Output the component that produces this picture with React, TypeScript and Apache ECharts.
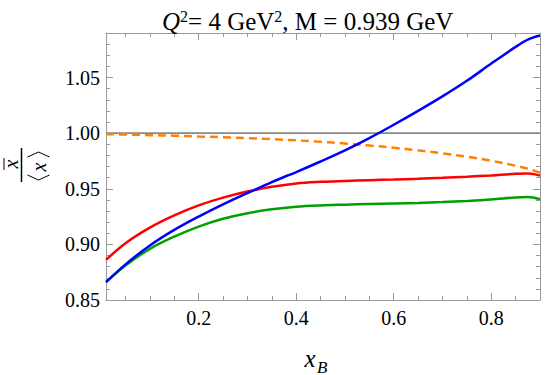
import React, { useEffect, useRef } from "react";
import * as echarts from "echarts";

const xs = [0.01, 0.05, 0.10, 0.15, 0.20, 0.25, 0.30, 0.35, 0.40, 0.45, 0.50, 0.55, 0.60, 0.65, 0.70, 0.75, 0.80, 0.85, 0.875, 0.90];
const blueVals = [0.866, 0.882, 0.899, 0.913, 0.925, 0.936, 0.946, 0.956, 0.965, 0.9745, 0.9845, 0.9955, 1.0075, 1.0200, 1.0330, 1.0470, 1.0625, 1.0775, 1.0840, 1.0877];
const redVals = [0.886, 0.901, 0.915, 0.926, 0.935, 0.942, 0.9475, 0.9518, 0.9548, 0.9562, 0.9570, 0.9577, 0.9583, 0.9590, 0.9598, 0.9608, 0.9620, 0.9634, 0.9636, 0.9618];
const greenVals = [0.866, 0.881, 0.896, 0.907, 0.916, 0.923, 0.928, 0.9315, 0.9338, 0.9350, 0.9357, 0.9363, 0.9368, 0.9373, 0.9380, 0.9390, 0.9403, 0.9422, 0.9426, 0.9405];
const orangeVals = [0.9990, 0.9987, 0.9982, 0.9977, 0.9970, 0.9963, 0.9955, 0.9946, 0.9935, 0.9922, 0.9907, 0.9889, 0.9868, 0.9845, 0.9818, 0.9788, 0.9752, 0.9707, 0.9680, 0.9645];
const refLine = [[0.01, 1.0], [0.9, 1.0]];

const xMajor = [0.2, 0.4, 0.6, 0.8];
const xMinor = [0.05, 0.1, 0.15, 0.25, 0.3, 0.35, 0.45, 0.5, 0.55, 0.65, 0.7, 0.75, 0.85];
const yMajor = [0.85, 0.9, 0.95, 1.0, 1.05];
const yMinor = [0.86, 0.87, 0.88, 0.89, 0.91, 0.92, 0.93, 0.94, 0.96, 0.97, 0.98, 0.99, 1.01, 1.02, 1.03, 1.04, 1.06, 1.07, 1.08];

const FRAME = "#999999";
const SERIF = "Liberation Serif";

const zip = (a: number[], b: number[]) => a.map((v, i) => [v, b[i]]);

export default function App() {
  const ref = useRef<HTMLDivElement>(null);
  useEffect(() => {
    if (!ref.current) return;
    document.body.style.margin = "0";
    const chart = echarts.init(ref.current, null, { renderer: "svg" });
    const xBase = { type: "value", min: 0.01, max: 0.9, splitLine: { show: false } };
    const yBase = { type: "value", min: 0.85, max: 1.09, splitLine: { show: false } };
    const mk = (base: any, pos: string, vals: number[], len: number, line: boolean, labels: boolean) => ({
      ...base,
      position: pos,
      axisLine: { show: line, onZero: false, lineStyle: { color: FRAME, width: 1 } },
      axisTick: { show: true, inside: true, length: len, customValues: vals, lineStyle: { color: FRAME, width: 1 } },
      axisLabel: labels
        ? {
            show: true,
            customValues: vals,
            formatter: (v: number) => (pos === "left" ? v.toFixed(2) : v.toFixed(1)),
            fontFamily: SERIF,
            fontStyle: "normal",
            fontWeight: "normal",
            fontSize: 20,
            color: "#000",
            margin: pos === "left" ? 6 : 8,
          }
        : { show: false },
    });
    const lineSeries = (vals: number[], color: string, dash?: number[]) => ({
      type: "line",
      data: zip(xs, vals),
      symbol: "none",
      smooth: 0.35,
      lineStyle: { color, width: 2.5, type: dash || "solid" },
    });
    chart.setOption({
      animation: false,
      textStyle: { fontFamily: SERIF },
      grid: { left: 106, right: 12, top: 33, bottom: 75 },
      title: {
        text: "{i|Q}{sup|2}{n|= 4 GeV}{sup|2}{n|, M = 0.939 GeV}",
        left: 157,
        top: 3,
        textStyle: {
          fontWeight: "normal",
          fontFamily: SERIF,
          rich: {
            i: { fontFamily: SERIF, fontSize: 25, fontStyle: "italic", fontWeight: "normal", color: "#000", lineHeight: 27 },
            n: { fontFamily: SERIF, fontSize: 25, fontWeight: "normal", color: "#000", lineHeight: 27 },
            sup: { fontFamily: SERIF, fontSize: 16, fontWeight: "normal", color: "#000", lineHeight: 16, verticalAlign: "top" },
          },
        },
      },
      xAxis: [
        mk(xBase, "bottom", xMajor, 7, true, true),
        mk(xBase, "bottom", xMinor, 4, false, false),
        mk(xBase, "top", xMajor, 7, true, false),
        mk(xBase, "top", xMinor, 4, false, false),
      ],
      yAxis: [
        mk(yBase, "left", yMajor, 7, true, true),
        mk(yBase, "left", yMinor, 4, false, false),
        mk(yBase, "right", yMajor, 7, true, false),
        mk(yBase, "right", yMinor, 4, false, false),
      ],
      series: [
        { type: "line", data: refLine, symbol: "none", lineStyle: { color: "#888888", width: 1.6 } },
        lineSeries(orangeVals, "#ff8000", [8, 5]),
        lineSeries(greenVals, "#00a000"),
        lineSeries(redVals, "#ff0000"),
        lineSeries(blueVals, "#0000ff"),
      ],
      graphic: [
        {
          type: "group",
          x: 21.5,
          y: 165,
          rotation: Math.PI / 2,
          children: [
            { type: "line", shape: { x1: -17, y1: 0, x2: 17, y2: 0 }, style: { stroke: "#000", lineWidth: 1.5 } },
            { type: "text", x: 1, y: -11, style: { text: "x", font: `italic 20px ${SERIF}`, fill: "#000", textAlign: "center", textVerticalAlign: "middle" } },
            { type: "line", shape: { x1: -5, y1: -17.5, x2: 7, y2: -17.5 }, style: { stroke: "#000", lineWidth: 1 } },
            { type: "polyline", shape: { points: [[-10, 6], [-15, 17], [-10, 28]] }, style: { stroke: "#000", lineWidth: 1, fill: null } },
            { type: "polyline", shape: { points: [[8, 6], [13, 17], [8, 28]] }, style: { stroke: "#000", lineWidth: 1, fill: null } },
            { type: "text", x: -2, y: 17.5, style: { text: "x", font: `italic 20px ${SERIF}`, fill: "#000", textAlign: "center", textVerticalAlign: "middle" } },
          ],
        },
        { type: "text", x: 310, y: 358, style: { text: "x", font: `italic 25px ${SERIF}`, fill: "#000", textAlign: "center", textVerticalAlign: "middle" } },
        { type: "text", x: 317, y: 367, style: { text: "B", font: `italic 17px ${SERIF}`, fill: "#000", textAlign: "left", textVerticalAlign: "middle" } },
      ],
    });
    return () => chart.dispose();
  }, []);
  return <div ref={ref} style={{ width: 552, height: 375 }} />;
}
